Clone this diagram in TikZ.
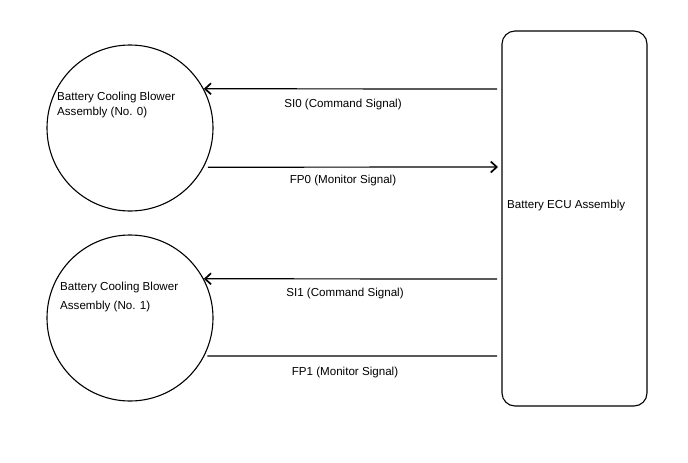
\documentclass[tikz,border=0pt]{standalone}
\usepackage{fontspec}
\setmainfont{Liberation Sans}
\usetikzlibrary{arrows.meta}
\begin{document}
\begin{tikzpicture}[x=1pt,y=-1pt,
  lbl/.style={font=\fontsize{11.6}{14}\selectfont, inner sep=0pt},
  blower/.style={draw, circle, line width=1.1pt, minimum size=166pt, inner sep=0pt},
  ecubox/.style={draw, rounded corners=13pt, line width=1.1pt, minimum width=145pt, minimum height=375pt, inner sep=0pt},
  sig/.style={line width=1.2pt},
  arr/.style={sig, -{Straight Barb[length=6pt,width=11pt,line width=1.7pt]}}]
\useasboundingbox (0,0) rectangle (688,463);
\fill[white] (0,0) rectangle (688,463);
\node[blower] (c0) at (130,128) {};
\node[blower] (c1) at (130,318) {};
\node[ecubox] (ecu) at (574.5,218.5) {};
\node[lbl, anchor=west, align=left] (t0) at (57,105) {Battery Cooling Blower\\[1pt]Assembly (No. 0)};
\node[lbl, anchor=west, align=left] (t1) at (60,297) {Battery Cooling Blower\\[5pt]Assembly (No. 1)};
\node[lbl, anchor=west] (te) at (507,205) {Battery ECU Assembly};
\coordinate (s0) at (497,89);
\coordinate (f0) at (498,167);
\coordinate (s1) at (497,279);
\coordinate (f1) at (497,356);
\draw[arr] (s0) -- (c0.28);
\draw[arr] ([xshift=4pt]c0.-28) -- (f0);
\draw[arr] (s1) -- (c1.28);
\draw[sig] ([xshift=3pt]c1.-27) -- (f1);
\node[lbl] (l0) at (343,104) {SI0 (Command Signal)};
\node[lbl] (l1) at (343,180) {FP0 (Monitor Signal)};
\node[lbl] (l2) at (345,293) {SI1 (Command Signal)};
\node[lbl] (l3) at (345,372) {FP1 (Monitor Signal)};
\end{tikzpicture}
\end{document}
